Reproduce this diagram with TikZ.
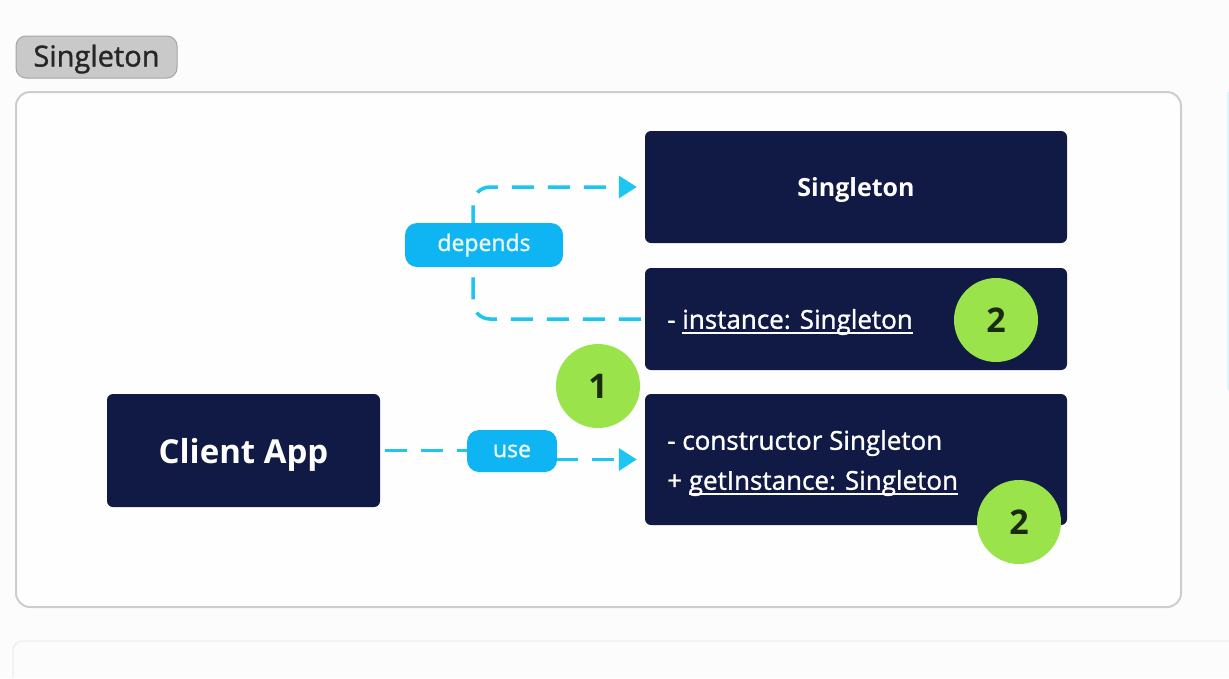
\documentclass[tikz,border=0pt]{standalone}
\usepackage{fontspec}
\setmainfont{Open Sans}
\newfontfamily\medfont[FakeBold=1.2]{Open Sans}
\usetikzlibrary{arrows.meta}
\definecolor{navy}{HTML}{101A45}
\definecolor{cyanline}{HTML}{1DC6F2}
\definecolor{cyanlabel}{HTML}{0FB5F3}
\definecolor{greenball}{HTML}{9AE34B}
\definecolor{taggray}{HTML}{C9C9C9}
\definecolor{tagborder}{HTML}{A5A5A5}
\definecolor{panelborder}{HTML}{CDCDCD}
\definecolor{balltext}{HTML}{1B2B12}
\newcommand\myul[1]{\setbox0\hbox{#1}\rlap{\rule[-5pt]{\wd0}{1.4pt}}\box0}
\tikzset{
  navybox/.style={fill=navy, rounded corners=6pt, text=white, inner sep=0pt},
  ball/.style={circle, fill=greenball, minimum size=84pt, inner sep=0pt, text=balltext, font=\fontsize{34}{38}\selectfont\bfseries},
  conn/.style={draw=cyanline, line width=3.5pt, dash pattern=on 22pt off 14pt},
  tiphead/.style={-{Triangle[length=18pt,width=22pt]}},
  lbl/.style={fill=cyanlabel, rounded corners=12pt, text=white!92!cyan, font=\fontsize{23}{27}\selectfont\medfont, inner sep=0pt},
  member/.style={anchor=west, text=white, font=\fontsize{26}{30}\selectfont\medfont, inner sep=0pt}
}
\begin{document}
\begin{tikzpicture}[x=1pt,y=-1pt]
\useasboundingbox (0,0) rectangle (1229,678);
\fill[white!98!gray] (0,0) rectangle (1229,678);
% tag
\node[draw=tagborder, fill=taggray, rounded corners=10pt, line width=1pt, minimum width=161pt, minimum height=42pt, inner sep=0pt] (tag) at (96.5,57) {};
\node[font=\fontsize{29}{33}\selectfont\medfont, text=black!85, inner sep=0pt] (tagtext) at (96.5,59) {Singleton};
% main panel
\draw[panelborder, fill=white!99!gray, line width=2pt, rounded corners=14pt] (16,92) rectangle (1181,607);
% faint right and bottom panels
\draw[cyanline!15, line width=1.5pt] (1228,92) -- (1228,390);
\draw[gray!12, line width=1.5pt, rounded corners=10pt] (13,678) -- (13,641) -- (1229,641);
% boxes
\node[navybox, minimum width=422pt, minimum height=112pt] (single) at (856,187) {};
\node[text=white, inner sep=0pt, font=\fontsize{25}{29}\selectfont\bfseries] (singletext) at (856,190) {Singleton};
\node[navybox, minimum width=422pt, minimum height=102pt] (inst) at (856,319) {};
\node[member] (insttext) at (667,322) {- \myul{instance: Singleton}};
\node[navybox, minimum width=422pt, minimum height=131pt] (meth) at (856,459.5) {};
\node[member] (ctor) at (667,443) {- constructor Singleton};
\node[member] (getinst) at (667,483) {+ \myul{getInstance: Singleton}};
\node[navybox, minimum width=273pt, minimum height=113pt] (client) at (243.5,450.5) {};
\node[text=white, inner sep=0pt, font=\fontsize{33}{37}\selectfont\bfseries] (clienttext) at (243.5,455) {Client App};
% connectors
\draw[conn, tiphead, rounded corners=17pt, shorten <=4pt, shorten >=8pt] (inst.west) -- (473,319) -- (473,187) -- (single.west);
\draw[conn, tiphead, shorten <=5pt, shorten >=8pt] (client.east) -- (512,450.5) -- (512,459.5) -- (meth.west);
\node[lbl, minimum width=158pt, minimum height=44pt] (dep) at (484,245) {depends};
\node[lbl, minimum width=90pt, minimum height=42pt] (use) at (512,451) {use};
% balls
\node[ball] (b1) at (598,386) {1};
\node[ball] (b2) at (996,320) {2};
\node[ball] (b3) at (1019,522) {2};
\end{tikzpicture}
\end{document}
